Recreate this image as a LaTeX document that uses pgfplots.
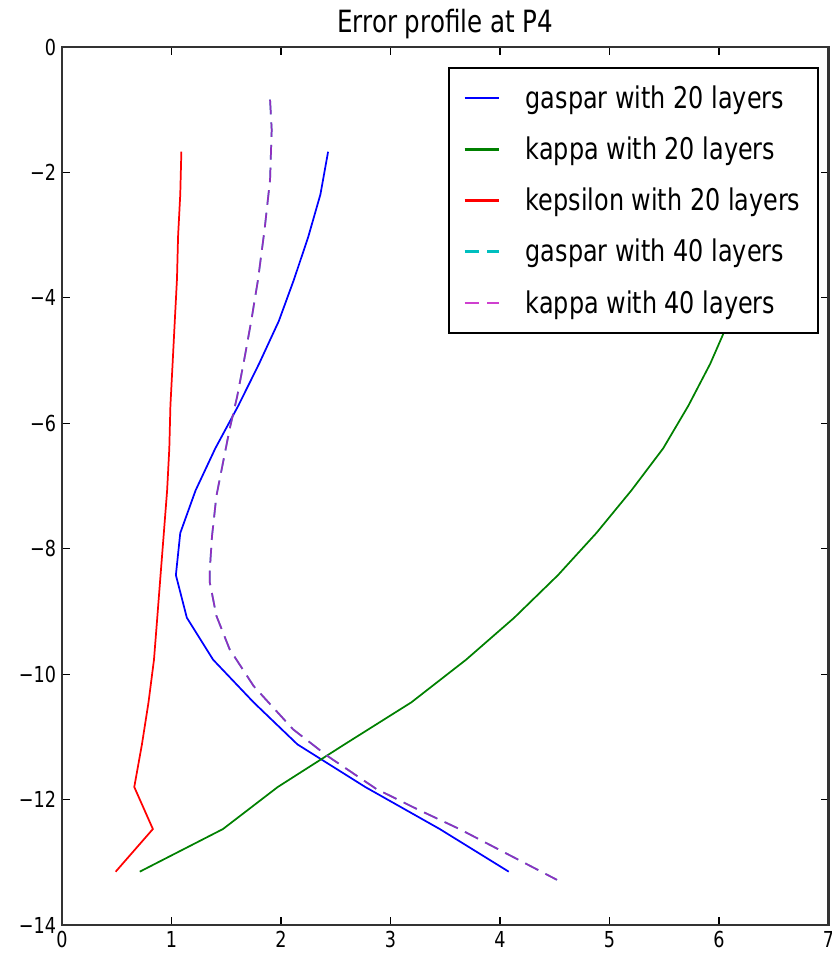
\documentclass[border=0pt]{standalone}
\usepackage{pgfplots}
\pgfplotsset{compat=1.18}
\usepackage{fontspec}
\setmainfont{DejaVu Sans}[FakeStretch=0.8]
\definecolor{mblue}{rgb}{0,0,1}
\definecolor{mgreen}{rgb}{0,0.5,0}
\definecolor{mred}{rgb}{1,0,0}
\definecolor{mcyan}{rgb}{0,0.75,0.75}
\definecolor{mmag}{rgb}{0.75,0,0.75}
\begin{document}
\begin{tikzpicture}
\begin{axis}[
  scale only axis,
  width=574.9pt, height=658.5pt,
  xmin=0, xmax=7, ymin=-14, ymax=0,
  xtick={0,1,2,3,4,5,6,7},
  xticklabels={0,1,2,3,4,5,6,7},
  ytick={-14,-12,-10,-8,-6,-4,-2,0},
  yticklabels={−14,−12,−10,−8,−6,−4,−2,0},
  tick align=inside,
  major tick length=6pt,
  tick style={black, line width=0.8pt},
  axis line style={line width=1.6pt, black!80},
  tick label style={font=\fontsize{16.5}{19}\selectfont},
  xticklabel style={yshift=-1pt},
  yticklabel style={xshift=-1pt},
  title={Error profile at P4},
  title style={font=\fontsize{23}{27}\selectfont, anchor=base, yshift=5pt},
  legend cell align=left,
  legend image code/.code={\draw[#1, line width=1.7pt] (0pt,0pt) -- (26pt,0pt);},
  legend style={at={(0.987,0.977)}, anchor=north east, draw=black, line width=1.2pt,
    fill=white, font=\fontsize{22.4}{26}\selectfont, row sep=15.8pt,
    inner xsep=11pt, inner ysep=11.5pt,
    /tikz/every odd column/.append style={column sep=17pt}},
  every axis plot/.append style={line width=1.3pt},
]
% gaspar with 20 layers
\addplot[color=mblue] coordinates {
(2.43,-1.67) (2.36,-2.35) (2.25,-3.02) (2.12,-3.70) (1.98,-4.37) (1.80,-5.05)
(1.61,-5.72) (1.40,-6.40) (1.22,-7.07) (1.08,-7.75) (1.04,-8.42) (1.14,-9.10)
(1.38,-9.77) (1.75,-10.45) (2.15,-11.12) (2.77,-11.80) (3.45,-12.47) (4.08,-13.15)};
\addlegendentry{gaspar with 20 layers}
% kappa with 20 layers
\addplot[color=mgreen] coordinates {
(6.64,-1.67) (6.53,-2.35) (6.40,-3.02) (6.25,-3.70) (6.09,-4.37) (5.92,-5.05)
(5.72,-5.72) (5.49,-6.40) (5.20,-7.07) (4.88,-7.75) (4.53,-8.42) (4.13,-9.10)
(3.69,-9.77) (3.19,-10.45) (2.58,-11.12) (1.97,-11.80) (1.47,-12.47) (0.71,-13.15)};
\addlegendentry{kappa with 20 layers}
% kepsilon with 20 layers
\addplot[color=mred] coordinates {
(1.09,-1.67) (1.08,-2.35) (1.06,-3.02) (1.05,-3.70) (1.03,-4.37) (1.01,-5.05)
(0.99,-5.72) (0.98,-6.40) (0.96,-7.07) (0.93,-7.75) (0.90,-8.42) (0.87,-9.10)
(0.84,-9.77) (0.79,-10.45) (0.73,-11.12) (0.66,-11.80) (0.83,-12.47) (0.49,-13.15)};
\addlegendentry{kepsilon with 20 layers}
% gaspar with 40 layers
\addplot[color=mcyan, dash pattern=on 11pt off 6pt] coordinates {
(1.90,-0.84) (1.915,-1.32) (1.90,-2.12) (1.85,-2.91) (1.79,-3.71) (1.73,-4.35)
(1.67,-4.93) (1.60,-5.57) (1.53,-6.10) (1.47,-6.63) (1.41,-7.16) (1.37,-7.80)
(1.35,-8.33) (1.35,-8.54) (1.41,-9.07) (1.53,-9.60) (1.75,-10.19) (2.11,-10.88)
(2.42,-11.30) (2.87,-11.83) (3.24,-12.15) (3.63,-12.47) (4.52,-13.28)};
\addlegendentry{gaspar with 40 layers}
% kappa with 40 layers
\addplot[color=mmag, opacity=0.75, dash pattern=on 11pt off 6pt] coordinates {
(1.90,-0.84) (1.915,-1.32) (1.90,-2.12) (1.85,-2.91) (1.79,-3.71) (1.73,-4.35)
(1.67,-4.93) (1.60,-5.57) (1.53,-6.10) (1.47,-6.63) (1.41,-7.16) (1.37,-7.80)
(1.35,-8.33) (1.35,-8.54) (1.41,-9.07) (1.53,-9.60) (1.75,-10.19) (2.11,-10.88)
(2.42,-11.30) (2.87,-11.83) (3.24,-12.15) (3.63,-12.47) (4.52,-13.28)};
\addlegendentry{kappa with 40 layers}
\coordinate (sw) at (rel axis cs:0,0);
\coordinate (ne) at (rel axis cs:1,1);
\end{axis}
\pgfresetboundingbox
\path[use as bounding box] ([xshift=-46.5pt,yshift=-24pt]sw) rectangle ([xshift=2.6pt,yshift=35.25pt]ne);
\end{tikzpicture}
\end{document}
